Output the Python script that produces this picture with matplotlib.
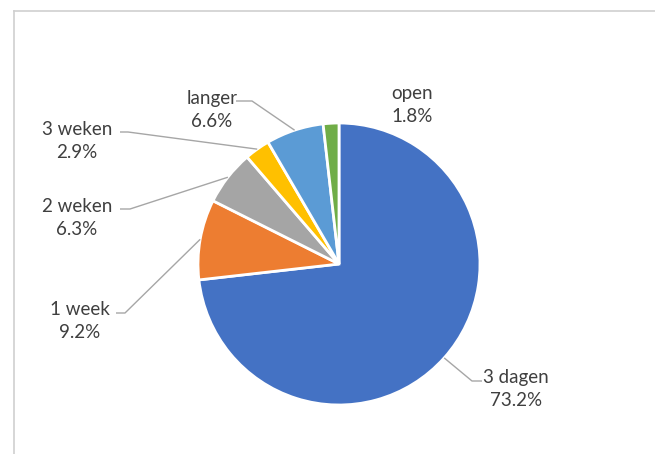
import numpy as np
import matplotlib
matplotlib.use("Agg")
import matplotlib.pyplot as plt

# Duration categories and their shares (percent)
categories = ["3 dagen", "1 week", "2 weken", "3 weken", "langer", "open"]
shares = [73.2, 9.2, 6.3, 2.9, 6.6, 1.8]
colors = ["#4472C4", "#ED7D31", "#A5A5A5", "#FFC000", "#5B9BD5", "#70AD47"]

W, H = 655, 454
fig = plt.figure(figsize=(W / 100, H / 100), dpi=100)
ax = fig.add_axes([0, 0, 1, 1])


def Y(y_pix):
    """Convert a top-down pixel row into the upward data y."""
    return H - y_pix


cx, cy, r = 339, Y(264), 141
wedges, _ = ax.pie(shares, colors=colors, startangle=90, counterclock=False,
                   center=(cx, cy), radius=r, frame=True,
                   wedgeprops=dict(edgecolor="white", linewidth=2))
ax.set_xlim(0, W)
ax.set_ylim(0, H)
ax.set_aspect("equal")
ax.axis("off")

# label block centre, leader start and elbow in pixel rows (None = no leader)
label_pos = {
    "3 dagen": ((516, 389), (482, 381), (472, 381)),
    "1 week": ((80, 321), (116, 313), (125, 313)),
    "2 weken": ((77, 218), (120, 209), (130, 209)),
    "3 weken": ((77, 141), (120, 132), (128, 132)),
    "langer": ((212, 110), (236, 101), (252, 101)),
    "open": ((412, 105), None, None),
}

text_color = "#3F3F3F"
for w, cat, val in zip(wedges, categories, shares):
    mid = np.deg2rad((w.theta1 + w.theta2) / 2)
    px = cx + r * np.cos(mid)
    py = cy + r * np.sin(mid)
    (tx, ty), start, elbow = label_pos[cat]
    ax.text(tx, Y(ty), f"{cat}\n{val:.1f}%", ha="center", va="center",
            fontsize=13.5, color=text_color, family="Lato", linespacing=1.45)
    if start is not None:
        ax.plot([start[0], elbow[0], px], [Y(start[1]), Y(elbow[1]), py],
                color="#A6A6A6", lw=1, solid_capstyle="butt")

# thin frame along top and left
ax.plot([13.5, W], [Y(10.5), Y(10.5)], color="#CFCFCF", lw=1.2)
ax.plot([13.5, 13.5], [Y(10.5), 0], color="#CFCFCF", lw=1.2)

fig.savefig("out.png", dpi=100, facecolor="white")
